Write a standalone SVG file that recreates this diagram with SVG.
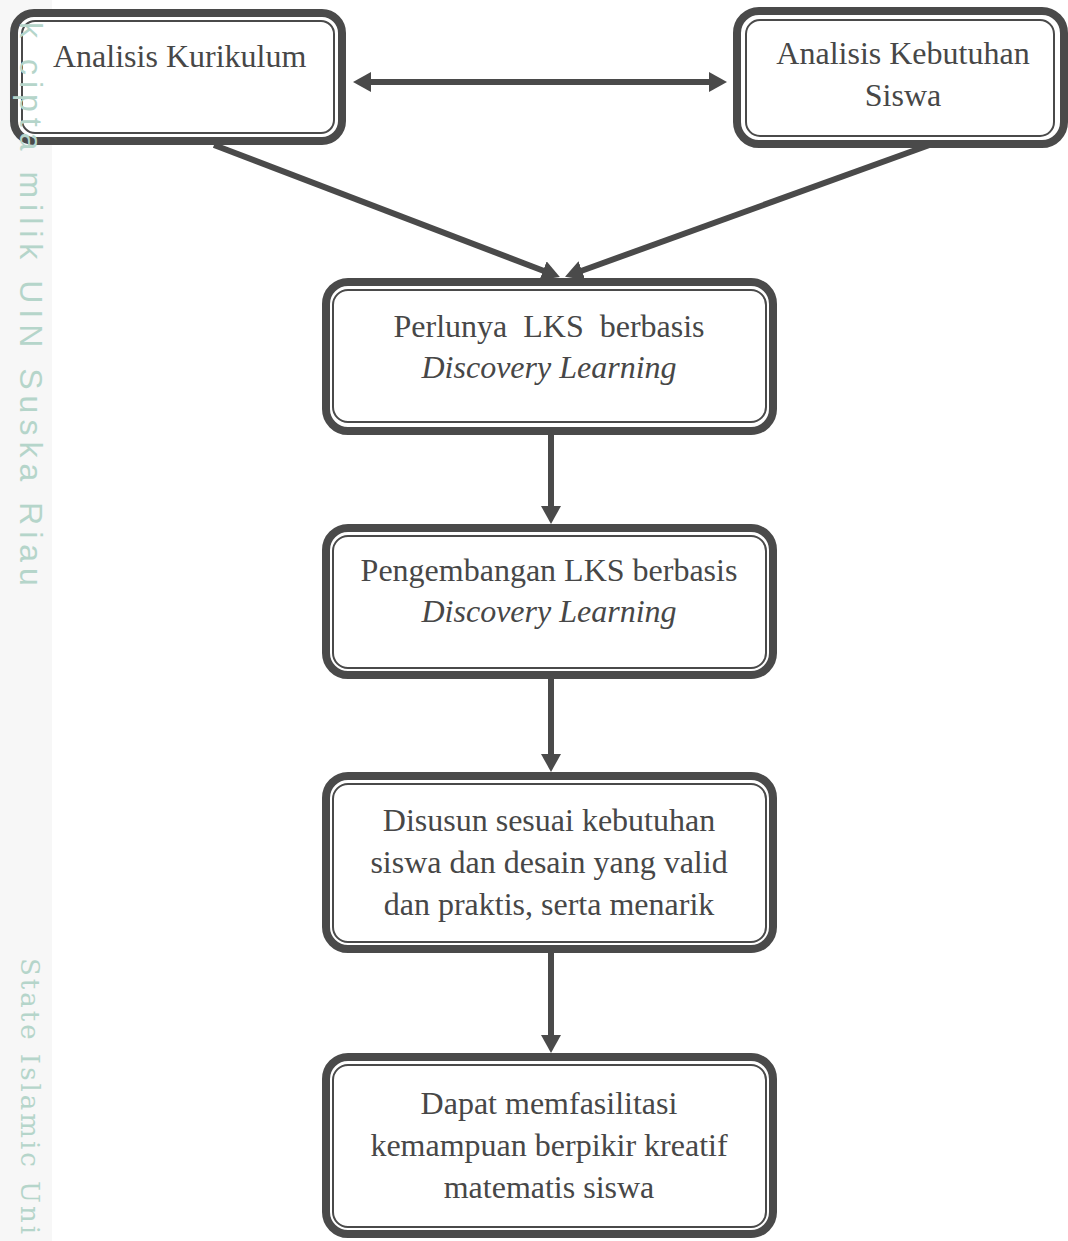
<svg xmlns="http://www.w3.org/2000/svg" width="1068" height="1241" viewBox="0 0 1068 1241">
<style>
.outer{fill:#ffffff;stroke:#4a4a4a;stroke-width:8}
.inner{fill:none;stroke:#4a4a4a;stroke-width:2}
.t{font-family:"Liberation Serif","Times New Roman",serif;font-size:32px;fill:#474747;text-anchor:middle}
.it{font-style:italic}
.conn{stroke:#4a4a4a;stroke-width:6;fill:none}
.wm{fill:#b5d5ca}
</style>
<defs>
<marker id="ah" viewBox="0 0 18 20" refX="1" refY="10" markerWidth="18" markerHeight="20" markerUnits="userSpaceOnUse" orient="auto-start-reverse">
<path d="M0,0 L18,10 L0,20 z" fill="#4a4a4a"/>
</marker>
</defs>
<rect x="0" y="0" width="1068" height="1241" fill="#ffffff"/>
<rect x="0" y="0" width="52" height="1241" fill="#f7f7f7"/>

<g id="connectors">
<line class="conn" x1="370" y1="82" x2="710" y2="82" marker-start="url(#ah)" marker-end="url(#ah)"/>
<line class="conn" x1="214" y1="145" x2="544" y2="271" marker-end="url(#ah)"/>
<line class="conn" x1="935" y1="143" x2="581" y2="271" marker-end="url(#ah)"/>
<line class="conn" x1="551" y1="435" x2="551" y2="507" marker-end="url(#ah)"/>
<line class="conn" x1="551" y1="679" x2="551" y2="755" marker-end="url(#ah)"/>
<line class="conn" x1="551" y1="953" x2="551" y2="1036" marker-end="url(#ah)"/>
</g>

<g id="node-kurikulum">
<rect class="outer" x="14" y="13" width="328" height="128" rx="20"/>
<rect class="inner" x="22" y="21" width="312" height="112" rx="13"/>
<text class="t" x="53" y="67" style="text-anchor:start">Analisis Kurikulum</text>
</g>

<g id="node-kebutuhan">
<rect class="outer" x="737" y="11" width="327" height="133" rx="22"/>
<rect class="inner" x="746" y="20" width="308" height="116" rx="14"/>
<text class="t" x="903" y="64">Analisis Kebutuhan</text>
<text class="t" x="903" y="106">Siswa</text>
</g>

<g id="node-perlunya">
<rect class="outer" x="326" y="282" width="447" height="149" rx="22"/>
<rect class="inner" x="333" y="290" width="433" height="132" rx="15"/>
<text class="t" x="549" y="337" xml:space="preserve">Perlunya  LKS  berbasis</text>
<text class="t it" x="549" y="378">Discovery Learning</text>
</g>

<g id="node-pengembangan">
<rect class="outer" x="326" y="528" width="447" height="147" rx="22"/>
<rect class="inner" x="333" y="536" width="433" height="132" rx="15"/>
<text class="t" x="549" y="581">Pengembangan LKS berbasis</text>
<text class="t it" x="549" y="622">Discovery Learning</text>
</g>

<g id="node-disusun">
<rect class="outer" x="326" y="776" width="447" height="173" rx="22"/>
<rect class="inner" x="333" y="784" width="433" height="158" rx="15"/>
<text class="t" x="549" y="831">Disusun sesuai kebutuhan</text>
<text class="t" x="549" y="873">siswa dan desain yang valid</text>
<text class="t" x="549" y="915">dan praktis, serta menarik</text>
</g>

<g id="node-dapat">
<rect class="outer" x="326" y="1057" width="447" height="177" rx="22"/>
<rect class="inner" x="333" y="1065" width="433" height="162" rx="15"/>
<text class="t" x="549" y="1114">Dapat memfasilitasi</text>
<text class="t" x="549" y="1156">kemampuan berpikir kreatif</text>
<text class="t" x="549" y="1198">matematis siswa</text>
</g>

<g id="watermark-text">
<text class="wm" transform="translate(20,22) rotate(90)" style="font-family:'Liberation Sans',Arial,sans-serif;font-size:32px;letter-spacing:6px">k cipta milik UIN Suska Riau</text>
<text class="wm" transform="translate(21,958) rotate(90)" style="font-family:'DejaVu Serif',serif;font-size:26px;letter-spacing:3px">State Islamic Uni</text>
</g>
</svg>
